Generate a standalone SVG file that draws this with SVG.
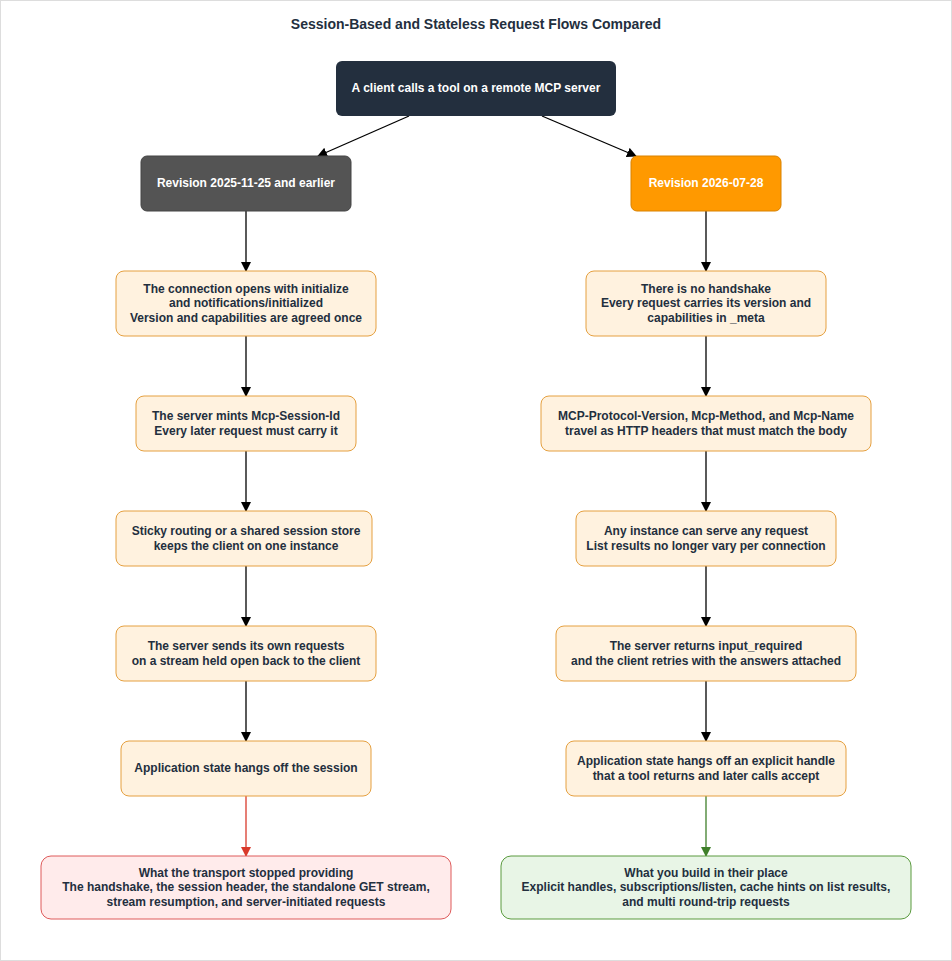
<svg xmlns="http://www.w3.org/2000/svg" width="952" height="961" viewBox="0 0 952 961">
<style>
text{font-family:"Liberation Sans",Arial,sans-serif;font-size:12px;font-weight:bold;fill:#232F3E;text-anchor:middle}
.w{fill:#fff}
.box{fill:#FFF2DF;stroke:#E5A040;stroke-width:1}
.c{stroke:#000;stroke-width:1.3;fill:none}
</style>
<defs>
<marker id="a" viewBox="0 0 10 10" refX="9" refY="5" markerWidth="10" markerHeight="10" markerUnits="userSpaceOnUse" orient="auto"><path d="M0,0L10,5L0,10z" fill="#000"/></marker>
<marker id="ar" viewBox="0 0 10 10" refX="9" refY="5" markerWidth="10" markerHeight="10" markerUnits="userSpaceOnUse" orient="auto"><path d="M0,0L10,5L0,10z" fill="#D93A2B"/></marker>
<marker id="ag" viewBox="0 0 10 10" refX="9" refY="5" markerWidth="10" markerHeight="10" markerUnits="userSpaceOnUse" orient="auto"><path d="M0,0L10,5L0,10z" fill="#3F7F2A"/></marker>
</defs>
<rect x="0.5" y="0.5" width="951" height="960" fill="#fff" stroke="#ddd"/>
<text x="476" y="29" style="font-size:14px">Session-Based and Stateless Request Flows Compared</text>
<g id="connectors">
<path class="c" d="M409,116L318,156" marker-end="url(#a)"/>
<path class="c" d="M542,116L636,156" marker-end="url(#a)"/>
<path class="c" d="M246,211V271" marker-end="url(#a)"/>
<path class="c" d="M246,336V396" marker-end="url(#a)"/>
<path class="c" d="M246,451V511" marker-end="url(#a)"/>
<path class="c" d="M246,566V626" marker-end="url(#a)"/>
<path class="c" d="M246,681V741" marker-end="url(#a)"/>
<path d="M246,796V856" stroke="#D93A2B" stroke-width="1.3" marker-end="url(#ar)"/>
<path class="c" d="M706,211V271" marker-end="url(#a)"/>
<path class="c" d="M706,336V396" marker-end="url(#a)"/>
<path class="c" d="M706,451V511" marker-end="url(#a)"/>
<path class="c" d="M706,566V626" marker-end="url(#a)"/>
<path class="c" d="M706,681V741" marker-end="url(#a)"/>
<path d="M706,796V856" stroke="#3F7F2A" stroke-width="1.3" marker-end="url(#ag)"/>
</g>
<g id="top"><rect x="336" y="61" width="280" height="55" rx="6" fill="#232F3E"/><text class="w" x="476" y="92">A client calls a tool on a remote MCP server</text></g>
<g id="revL"><rect x="141" y="156" width="210" height="55" rx="6" fill="#545454" stroke="#444"/><text class="w" x="246" y="187">Revision 2025-11-25 and earlier</text></g>
<g id="revR"><rect x="631" y="156" width="150" height="55" rx="6" fill="#FF9900" stroke="#D98200"/><text class="w" x="706" y="187">Revision 2026-07-28</text></g>
<g id="L1"><rect class="box" x="116" y="271" width="260" height="65" rx="8"/><text x="246" y="293">The connection opens with initialize</text><text x="246" y="307">and notifications/initialized</text><text x="246" y="322">Version and capabilities are agreed once</text></g>
<g id="L2"><rect class="box" x="136" y="396" width="220" height="55" rx="8"/><text x="246" y="420">The server mints Mcp-Session-Id</text><text x="246" y="435">Every later request must carry it</text></g>
<g id="L3"><rect class="box" x="116" y="511" width="256" height="55" rx="8"/><text x="246" y="535">Sticky routing or a shared session store</text><text x="246" y="550">keeps the client on one instance</text></g>
<g id="L4"><rect class="box" x="116" y="626" width="260" height="55" rx="8"/><text x="246" y="650">The server sends its own requests</text><text x="246" y="665">on a stream held open back to the client</text></g>
<g id="L5"><rect class="box" x="121" y="741" width="250" height="55" rx="8"/><text x="246" y="772">Application state hangs off the session</text></g>
<g id="LB"><rect x="41" y="856" width="410" height="63" rx="10" fill="#FFEBEB" stroke="#DE5A5A"/><text x="246" y="877">What the transport stopped providing</text><text x="246" y="891">The handshake, the session header, the standalone GET stream,</text><text x="246" y="906">stream resumption, and server-initiated requests</text></g>
<g id="R1"><rect class="box" x="586" y="271" width="240" height="65" rx="8"/><text x="706" y="293">There is no handshake</text><text x="706" y="307">Every request carries its version and</text><text x="706" y="322">capabilities in _meta</text></g>
<g id="R2"><rect class="box" x="541" y="396" width="330" height="55" rx="8"/><text x="706" y="420">MCP-Protocol-Version, Mcp-Method, and Mcp-Name</text><text x="706" y="435">travel as HTTP headers that must match the body</text></g>
<g id="R3"><rect class="box" x="576" y="511" width="260" height="55" rx="8"/><text x="706" y="535">Any instance can serve any request</text><text x="706" y="550">List results no longer vary per connection</text></g>
<g id="R4"><rect class="box" x="556" y="626" width="300" height="55" rx="8"/><text x="706" y="650">The server returns input_required</text><text x="706" y="665">and the client retries with the answers attached</text></g>
<g id="R5"><rect class="box" x="566" y="741" width="280" height="55" rx="8"/><text x="706" y="765">Application state hangs off an explicit handle</text><text x="706" y="780">that a tool returns and later calls accept</text></g>
<g id="RB"><rect x="501" y="856" width="410" height="63" rx="10" fill="#E8F5E6" stroke="#5A9A3E"/><text x="706" y="877">What you build in their place</text><text x="706" y="891">Explicit handles, subscriptions/listen, cache hints on list results,</text><text x="706" y="906">and multi round-trip requests</text></g>
</svg>
